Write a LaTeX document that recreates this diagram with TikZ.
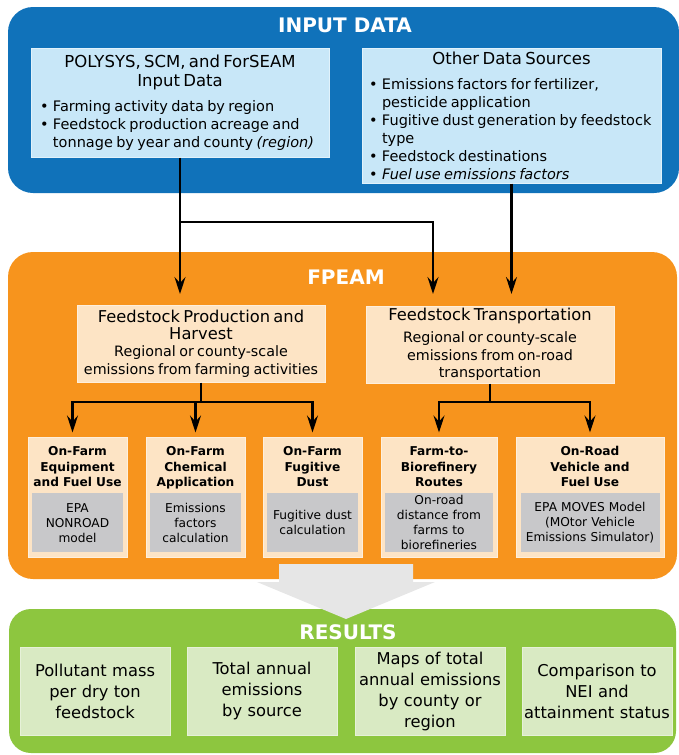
\documentclass[tikz,border=0pt]{standalone}
\usepackage{fontspec}
\setmainfont{DejaVu Sans}
\usetikzlibrary{arrows.meta,positioning}

\definecolor{inblue}{HTML}{1072BA}
\definecolor{srcfill}{HTML}{C8E7F8}
\definecolor{fporange}{HTML}{F7941D}
\definecolor{modfill}{HTML}{FDE4C5}
\definecolor{calcfill}{HTML}{C8C8CA}
\definecolor{resgreen}{HTML}{8DC63F}
\definecolor{resfill}{HTML}{D9EAC3}
\definecolor{arrowgray}{HTML}{E6E6E6}

\newcommand{\bul}[1]{\par\noindent\hangindent=13pt\hangafter=1\makebox[13pt][l]{\textbullet}#1\par}

\tikzset{
  frametitle/.style={text=white,inner sep=0pt,font=\fontsize{20}{24}\selectfont\bfseries},
  srcbox/.style={fill=srcfill,draw=white!45!srcfill,line width=1pt,inner sep=0pt,align=left},
  modbox/.style={fill=modfill,draw=white!40!modfill,line width=1pt,inner sep=0pt,
    minimum width=248pt,minimum height=77pt,text width=242pt,align=center},
  subbox/.style={fill=modfill,draw=white!40!modfill,line width=1pt,inner sep=0pt,minimum height=120pt},
  subtitle/.style={inner sep=0pt,align=center,font=\fontsize{12.2}{15.5}\selectfont\bfseries},
  calcbox/.style={fill=calcfill,inner sep=0pt,minimum height=59pt,align=center,
    font=\fontsize{12.2}{15}\selectfont},
  resbox/.style={fill=resfill,draw=white!35!resfill,line width=1pt,inner sep=0pt,
    minimum width=150pt,minimum height=88pt,text width=148pt,align=center,
    font=\fontsize{16.3}{21}\selectfont},
  link/.style={line width=2.2pt},
}

\begin{document}
\begin{tikzpicture}[x=1pt,y=-1pt,>={Stealth[length=17pt,width=11pt,inset=6pt]}]
  \useasboundingbox (0,0) rectangle (678,755);
  % input data
  \fill[inblue,rounded corners=25pt] (8,7) rectangle (679,193);
  \node[frametitle] (intitle) at (345,25) {INPUT DATA};
  \node[srcbox,minimum width=298pt,minimum height=109pt,text width=280pt] (polysys) at (180,102.5) {%
    {\centering\fontsize{16.5}{19}\selectfont POLYSYS, SCM, and ForSEAM\\Input Data\par}
    \vspace{7pt}
    \fontsize{14.5}{18}\selectfont
    \bul{Farming activity data by region}
    \bul{Feedstock production acreage and\newline tonnage by year and county \textit{(region)}}};
  \node[srcbox,minimum width=299pt,minimum height=135pt,text width=285pt] (other) at (511.5,115.5) {%
    {\centering\fontsize{16.5}{19}\selectfont Other Data Sources\par}
    \vspace{7pt}
    \fontsize{14.5}{18}\selectfont
    \bul{Emissions factors for fertilizer,\newline pesticide application}
    \bul{Fugitive dust generation by feedstock\newline type}
    \bul{Feedstock destinations}
    \bul{\textit{Fuel use emissions factors}}};

  % FPEAM
  \fill[fporange,rounded corners=25pt] (8,252) rectangle (677,579);
  \node[frametitle] (fptitle) at (346,277) {FPEAM};
  \node[modbox] (prod) at (201,343.5) {%
    {\fontsize{16.3}{17}\selectfont Feedstock Production and\\Harvest\par}
    {\fontsize{14.3}{17.5}\selectfont Regional or county-scale\\emissions from farming activities\par}};
  \node[modbox] (trans) at (490,344.5) {%
    {\fontsize{16.3}{17}\selectfont Feedstock Transportation\par}
    \vspace{5pt}
    {\fontsize{14.3}{17.5}\selectfont Regional or county-scale\\emissions from on-road\\transportation\par}};

  % production modules
  \node[subbox,minimum width=99pt] (equip) at (77.5,497) {};
  \node[subtitle,text width=97pt,below=10pt of equip.north] (equipT) {On-Farm\\Equipment\\and Fuel Use};
  \node[calcbox,minimum width=91pt,text width=89pt,above=5pt of equip.south] (equipC) {EPA\\NONROAD\\model};
  \node[subbox,minimum width=99pt] (chem) at (195.5,497) {};
  \node[subtitle,text width=97pt,below=10pt of chem.north] (chemT) {On-Farm\\Chemical\\Application};
  \node[calcbox,minimum width=91pt,text width=89pt,above=5pt of chem.south] (chemC) {Emissions\\factors\\calculation};
  \node[subbox,minimum width=99pt] (dust) at (312.5,497) {};
  \node[subtitle,text width=97pt,below=10pt of dust.north] (dustT) {On-Farm\\Fugitive\\Dust};
  \node[calcbox,minimum width=91pt,text width=89pt,above=5pt of dust.south] (dustC) {Fugitive dust\\calculation};

  % transportation modules
  \node[subbox,minimum width=116pt] (route) at (439,497) {};
  \node[subtitle,text width=112pt,below=10pt of route.north] (routeT) {Farm-to-\\Biorefinery\\Routes};
  \node[calcbox,minimum width=108pt,text width=106pt,above=5pt of route.south] (routeC) {On-road\\distance from\\farms to\\biorefineries};
  \node[subbox,minimum width=148pt] (moves) at (590,497) {};
  \node[subtitle,text width=144pt,below=10pt of moves.north] (movesT) {On-Road\\Vehicle and\\Fuel Use};
  \node[calcbox,minimum width=139pt,text width=137pt,above=5pt of moves.south] (movesC) {EPA MOVES Model\\(MOtor Vehicle\\Emissions Simulator)};

  % results
  \fill[resgreen,rounded corners=22pt] (9,609) rectangle (676,753);
  \fill[arrowgray] (279,564) -- (413,564) -- (413,582) -- (435,582) -- (346,619)
    -- (257,582) -- (279,582) -- cycle;
  \node[frametitle] (restitle) at (348,632) {RESULTS};
  \node[resbox] (mass) at (95,691) {Pollutant mass\\per dry ton\\feedstock};
  \node[resbox] (total) at (262,691) {Total annual\\emissions\\by source};
  \node[resbox] (maps) at (430,691) {Maps of total\\annual emissions\\by county or\\region};
  \node[resbox] (nei) at (597,691) {Comparison to\\NEI and\\attainment status};

  % connectors
  \coordinate (inbus) at (180,222);
  \coordinate (fptip) at (433,294);
  \coordinate (prodbus) at (201,402);
  \coordinate (transbus) at (490,402);
  \draw[link,->] (polysys.south) -- (polysys.south |- fptip);
  \draw[link,->] (inbus) -| (fptip);
  \draw[link,->] (other.south) -- (other.south |- fptip);
  \draw[link] (prod.south) -- (prodbus);
  \draw[link,->] (prodbus) -| ([xshift=-5pt,yshift=4pt]equip.north);
  \draw[link,->] (prodbus) -| ([yshift=4pt]chem.north);
  \draw[link,->] (prodbus) -| ([yshift=4pt]dust.north);
  \draw[link] (trans.south) -- (transbus);
  \draw[link,->] (transbus) -| ([yshift=4pt]route.north);
  \draw[link,->] (transbus) -| ([yshift=4pt]moves.north);
\end{tikzpicture}
\end{document}
